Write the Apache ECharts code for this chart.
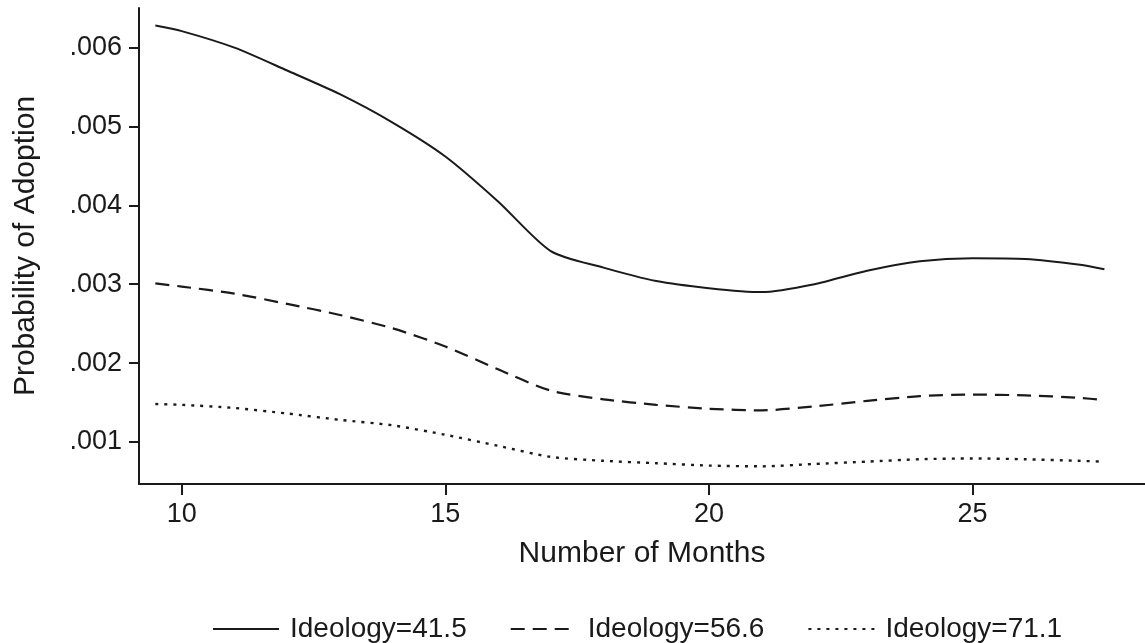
<!DOCTYPE html>
<html>
<head>
<meta charset="utf-8">
<script src="https://cdn.jsdelivr.net/npm/echarts@6/dist/echarts.min.js"></script>
<style>
html,body{margin:0;padding:0;background:#fff;}
#chart{width:1145px;height:643px;}
</style>
</head>
<body>
<div id="chart"></div>
<script>
const months = [9.5, 10, 11, 12, 13, 14, 15, 16, 17, 18, 19, 20, 21, 22, 23, 24, 25, 26, 27, 27.5];
const ideology415 = [0.00628, 0.00621, 0.00600, 0.00571, 0.00541, 0.00505, 0.00462, 0.00405, 0.00342, 0.00321, 0.00304, 0.00295, 0.00290, 0.00300, 0.00317, 0.00329, 0.00333, 0.00332, 0.00325, 0.00319];
const ideology566 = [0.00301, 0.00297, 0.00288, 0.00275, 0.00261, 0.00244, 0.00221, 0.00192, 0.00165, 0.00154, 0.00147, 0.00142, 0.00140, 0.00145, 0.00152, 0.00158, 0.00160, 0.00159, 0.00156, 0.00153];
const ideology711 = [0.00148, 0.00147, 0.00143, 0.00136, 0.00128, 0.00121, 0.00109, 0.00095, 0.00081, 0.00076, 0.00073, 0.00070, 0.00069, 0.00072, 0.00075, 0.00078, 0.00079, 0.00078, 0.00076, 0.00075];
const seriesNames = ['Ideology=41.5', 'Ideology=56.6', 'Ideology=71.1'];
const xTicks = [10, 15, 20, 25];
const yTicks = [0.001, 0.002, 0.003, 0.004, 0.005, 0.006];

const FONT = 'Liberation Sans, Arial, Helvetica, sans-serif';
const INK = '#1a1a1a';
const pairs = arr => months.map((m, i) => [m, arr[i]]);

const chart = echarts.init(document.getElementById('chart'), null, {renderer: 'canvas'});
const mk = (name, arr, type, w) => ({
  name: name,
  type: 'line',
  data: pairs(arr),
  symbol: 'none',
  showSymbol: false,
  smooth: 0.25,
  silent: true,
  animation: false,
  lineStyle: {color: INK, width: w, type: type},
  itemStyle: {color: INK}
});
chart.setOption({
  animation: false,
  backgroundColor: '#fff',
  grid: {left: 139, right: 0, top: 8, bottom: 159, containLabel: false},
  xAxis: {
    type: 'value',
    min: 9.19,
    max: 28.27,
    name: 'Number of Months',
    nameLocation: 'middle',
    nameGap: 55,
    nameTextStyle: {fontFamily: FONT, fontSize: 30, color: INK},
    axisLine: {show: true, onZero: false, lineStyle: {color: INK, width: 2}},
    axisTick: {show: true, length: 11, customValues: xTicks, lineStyle: {color: INK, width: 2}},
    axisLabel: {customValues: xTicks, margin: 17, fontFamily: FONT, fontSize: 27, color: INK},
    splitLine: {show: false}
  },
  yAxis: {
    type: 'value',
    min: 0.000466,
    max: 0.006503,
    name: 'Probability of Adoption',
    nameLocation: 'middle',
    nameGap: 98,
    nameTextStyle: {fontFamily: FONT, fontSize: 30, color: INK},
    axisLine: {show: true, onZero: false, lineStyle: {color: INK, width: 2}},
    axisTick: {show: true, length: 10, customValues: yTicks, lineStyle: {color: INK, width: 2}},
    axisLabel: {
      customValues: yTicks, margin: 17, fontFamily: FONT, fontSize: 27, color: INK,
      formatter: v => '.' + ('00' + Math.round(v * 1000)).slice(-3)
    },
    splitLine: {show: false}
  },
  legend: {
    left: 207,
    top: 610,
    itemWidth: 66,
    itemHeight: 26,
    itemGap: 43,
    itemStyle: {opacity: 0},
    textStyle: {fontFamily: FONT, fontSize: 28, color: INK, padding: [0, 0, 0, 6]},
    data: seriesNames
  },
  series: [
    mk(seriesNames[0], ideology415, 'solid', 2),
    mk(seriesNames[1], ideology566, [14, 8], 2.2),
    mk(seriesNames[2], ideology711, [3, 6], 2.4)
  ]
});
</script>
</body>
</html>
